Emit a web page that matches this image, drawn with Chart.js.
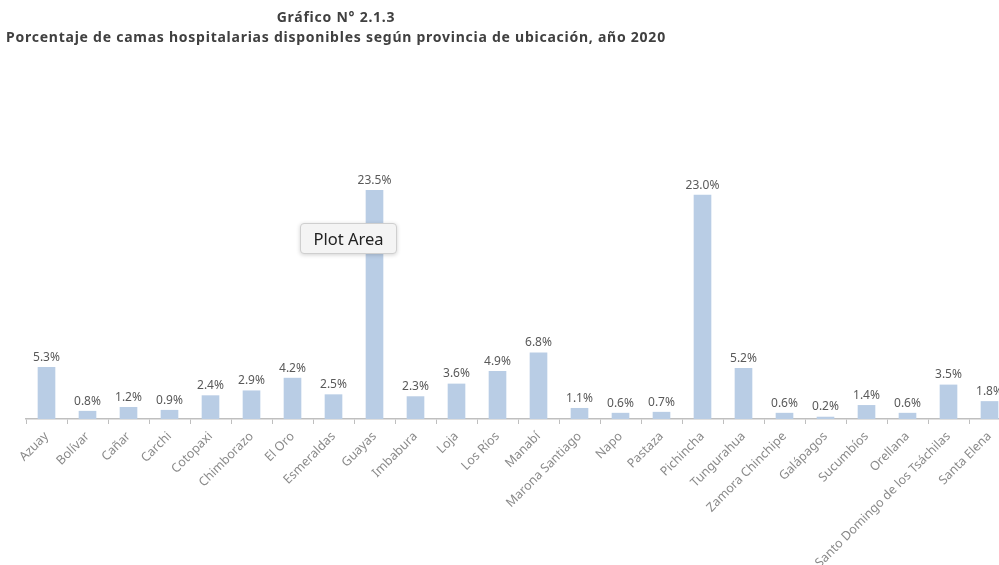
<!DOCTYPE html>
<html>
<head>
<meta charset="utf-8">
<script src="https://cdn.jsdelivr.net/npm/chart.js@4"></script>
<style>
  html, body { margin: 0; padding: 0; background: #fff; overflow: hidden; width: 999px; height: 565px; }
  #wrap { position: absolute; left: 0; top: 0; width: 1016px; height: 565px; }
  .title { position: absolute; left: 0; width: 672px; text-align: center; font-family: "Noto Sans", sans-serif; font-weight: bold; color: #404040; font-size: 14px; letter-spacing: 0.75px; }
  #tip { position: absolute; left: 300px; top: 223px; width: 97px; height: 31px; box-sizing: border-box; border: 1px solid #cfcfcf; border-radius: 4px; background: #f4f4f4; box-shadow: 0 1px 4px rgba(0,0,0,0.18); font-family: "Noto Sans", sans-serif; font-size: 16.5px; color: #222; line-height: 29px; text-align: center; }
</style>
</head>
<body>
<div id="wrap"><canvas id="chart" width="1016" height="565"></canvas></div>
<div class="title" style="top:7px">Gráfico N° 2.1.3</div>
<div class="title" style="top:27px">Porcentaje de camas hospitalarias disponibles según provincia de ubicación, año 2020</div>
<div id="tip">Plot Area</div>
<script>
// provincias y porcentaje de camas
const provincias = ['Azuay', 'Bolívar', 'Cañar', 'Carchi', 'Cotopaxi', 'Chimborazo', 'El Oro', 'Esmeraldas',
  'Guayas', 'Imbabura', 'Loja', 'Los Ríos', 'Manabí', 'Marona Santiago', 'Napo', 'Pastaza', 'Pichincha',
  'Tungurahua', 'Zamora Chinchipe', 'Galápagos', 'Sucumbíos', 'Orellana', 'Santo Domingo de los Tsáchilas', 'Santa Elena'];
const porcentajes = [5.3, 0.8, 1.2, 0.9, 2.4, 2.9, 4.2, 2.5, 23.5, 2.3, 3.6, 4.9, 6.8, 1.1, 0.6, 0.7, 23.0,
  5.2, 0.6, 0.2, 1.4, 0.6, 3.5, 1.8];

// etiquetas de valor encima de cada barra
const valueLabels = {
  id: 'valueLabels',
  afterDatasetsDraw(chart) {
    const ctx = chart.ctx;
    const meta = chart.getDatasetMeta(0);
    ctx.save();
    ctx.font = '12px "Noto Sans", sans-serif';
    ctx.fillStyle = '#595959';
    ctx.textAlign = 'center';
    ctx.textBaseline = 'bottom';
    meta.data.forEach((bar, i) => {
      ctx.fillText(porcentajes[i].toFixed(1) + '%', bar.x, bar.y - 4);
    });
    ctx.restore();
  }
};

new Chart(document.getElementById('chart'), {
  type: 'bar',
  data: {
    labels: provincias,
    datasets: [{
      data: porcentajes,
      backgroundColor: '#b9cde5',
      barThickness: 17
    }]
  },
  options: {
    responsive: false,
    animation: false,
    layout: { padding: { left: 26, right: 6, top: 127, bottom: 0 } },
    plugins: { legend: { display: false }, tooltip: { enabled: false } },
    scales: {
      y: { display: false, min: 0, max: 30 },
      x: {
        grid: { display: true, drawOnChartArea: false, drawTicks: true, tickLength: 5, color: '#bfbfbf', offset: true },
        border: { display: true, color: '#bfbfbf', width: 1.5 },
        ticks: { color: '#8a8a8a', font: { family: 'Noto Sans', size: 12.5 }, minRotation: 45, maxRotation: 45, padding: 5, autoSkip: false },
        afterFit(scale) {
          scale.height = 146;
          scale.paddingLeft = 0;
          scale.paddingRight = 0;
        }
      }
    }
  },
  plugins: [valueLabels]
});
</script>
</body>
</html>
